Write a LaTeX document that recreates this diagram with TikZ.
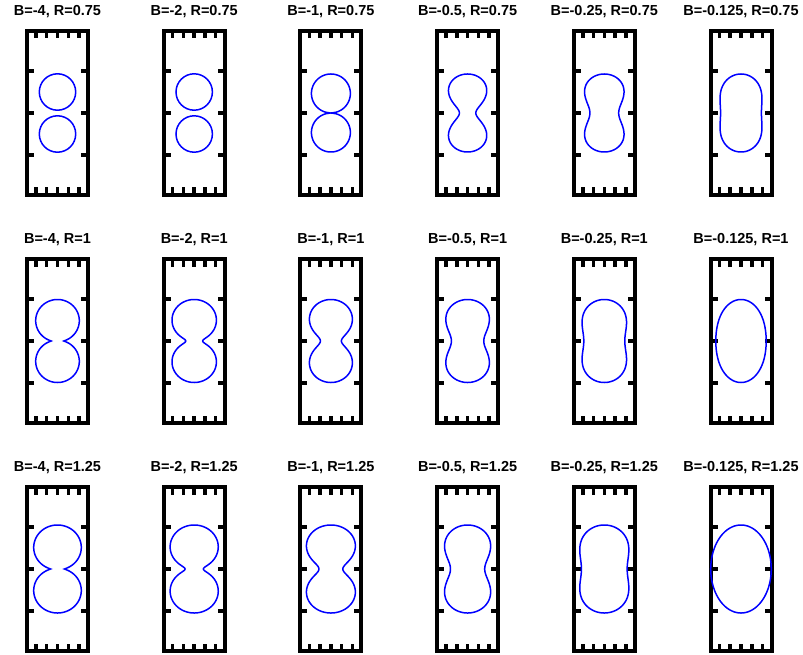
\documentclass[tikz,border=0pt]{standalone}
\usepackage{fontspec}
\setmainfont{Liberation Sans}
\tikzset{
  wall/.style={black, line width=4pt},
  walltick/.style={black, line width=3.5pt},
  level/.style={blue, line width=1.5pt},
  paneltitle/.style={font=\fontsize{14.5}{17}\selectfont\bfseries, inner sep=0pt},
  declare function={
    wsq(\pu,\pg,\ps)=(1-\pg)*(1-\pg)-(abs(\pu)-\pg)*(abs(\pu)-\pg)
      +\ps*ln(1+exp(-min(4*\pg*abs(\pu)/\ps,9)))-\ps*ln(1+exp(-min(4*\pg/\ps,9)));
    wid(\pu,\pg,\ps)=sqrt(max(wsq(\pu,\pg,\ps),0));
  }
}
\begin{document}
\begin{tikzpicture}[x=1pt, y=1pt]
    \useasboundingbox (0,0) rectangle (803,-655);

    % Draw walls, ticks and titles
    \foreach \bv [count=\i from 0] in {-4,-2,-1,-0.5,-0.25,-0.125}
    \foreach \rv [count=\j from 0] in {0.75,1,1.25} {
      \begin{scope}[shift={({57.5+136.7*\i},{-113-228*\j})}]
        \draw[wall] (-30.5,-82) rectangle (30.5,82);
        \foreach \x in {-21.5,-10.8,0,10.8,21.5} {
          \draw[walltick] (\x,82) -- (\x,74.5);
          \draw[walltick] (\x,-82) -- (\x,-74.5);
        }
        \foreach \y in {-42,0,42} {
          \draw[walltick] (-30.5,\y) -- (-23.5,\y);
          \draw[walltick] (30.5,\y) -- (23.5,\y);
        }
        \node[paneltitle] (title-\i-\j) at (0,101) {B=\bv, R=\rv};
      \end{scope}
    }

    % Two separate drops (first row)
    \foreach \i in {0,1} {
      \draw[level] ({57.5+136.7*\i},-92) circle [radius=18.2];
      \draw[level] ({57.5+136.7*\i},-134) circle [radius=18.2];
    }

    % Joined drops: column/row/height/centre/smoothing/squeeze
    \foreach \i/\j/\hh/\gam/\sig/\qq in {
        2/0/39/0.501/0.003/1.0, 3/0/39/0.588/0.3/1.18,
        4/0/39/0.59/0.4/1.19, 5/0/39/0.5/0.4/1.0,
        0/1/41.5/0.49/0.003/1.03, 1/1/41.5/0.503/0.06/1.076,
        2/1/41.5/0.525/0.15/1.09, 3/1/41.5/0.545/0.3/1.137,
        4/1/41.5/0.535/0.4/1.09, 5/1/41.5/0.3/0.4/0.749,
        0/2/44/0.49/0.003/1.06, 1/2/44/0.503/0.06/1.1,
        2/2/44/0.525/0.15/1.17, 3/2/44/0.545/0.3/1.134,
        4/2/44/0.53/0.4/1.12, 5/2/44/0.1/0.4/0.705} {
      \draw[level, shift={({57.5+136.7*\i},{-113-228*\j})}]
        plot[domain=-90:270, samples=361, variable=\t]
        ({\qq*\hh*wid(sin(\t),\gam,\sig)*(cos(\t)<0?-1:1)}, {\hh*sin(\t)}) -- cycle;
    }

\end{tikzpicture}
\end{document}
